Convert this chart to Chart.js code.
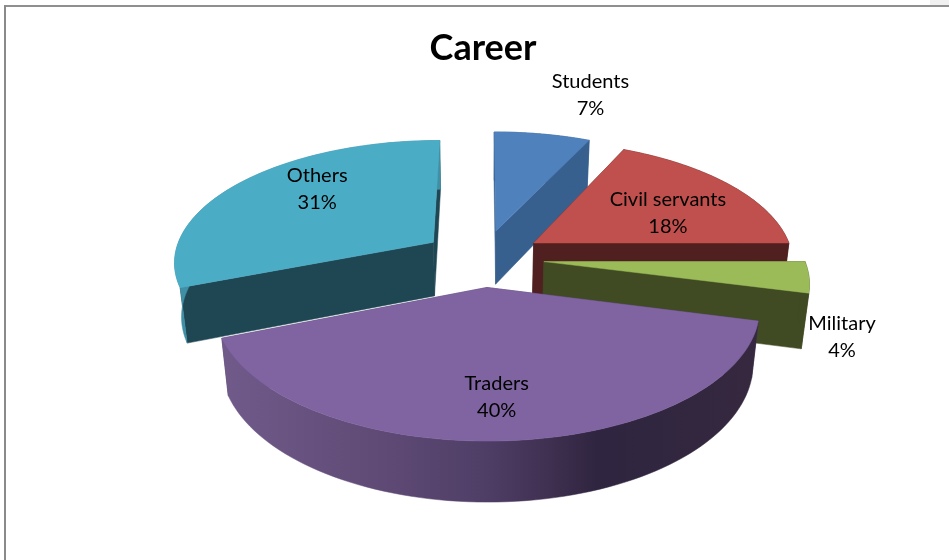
<!DOCTYPE html>
<html>
<head>
<meta charset="utf-8">
<style>
html,body{margin:0;padding:0;background:#fff;width:949px;height:560px;overflow:hidden}
#wrap{position:absolute;left:0;top:0;width:949px;height:560px}
#frameTop{position:absolute;left:4px;top:5px;width:945px;height:2px;background:#8f8f8f}
#frameLeft{position:absolute;left:4px;top:5px;width:2px;height:555px;background:#8a8a8a}
#corner{position:absolute;left:930px;top:0;width:19px;height:5px;background:#f0f0f0}
canvas{position:absolute;left:0;top:0}
</style>
<script src="https://cdn.jsdelivr.net/npm/chart.js@4/dist/chart.umd.min.js"></script>
</head>
<body>
<div id="wrap"><canvas id="c" width="949" height="560"></canvas><div id="corner"></div><div id="frameTop"></div><div id="frameLeft"></div></div>
<script>
const chartTitle = "Career";
const categories = ["Students", "Civil servants", "Military", "Traders", "Others"];
const shares = [7, 18, 4, 40, 31];
const topColors = ["#4f81bd", "#c0504d", "#9bbb59", "#8064a2", "#4bacc6"];
const cutColors = ["#37608f", "#4f201f", "#404a23", "#4a3a60", "#1f4653"];
const rimColors = ["#37608f", "#4f201f", "#404a23", null, "#3f8fa5"];
const paintOrder = [0, 1, 2, 4, 3];
const labelNudges = [[48,-39],[-62,28],[33,60],[-11,-44],[75,7]];
const view = {cx:483, cy:258, rx:260, ry:121.2, persp:0.148, explode:0.235, depth:55.5, shrink:0.023};

function project(X, Y, low){
  const s = 1/(1 + view.persp*Y + (low ? view.shrink : 0));
  return [view.cx + view.rx*X*s, view.cy + (-view.ry*Y + (low ? view.depth : 0))*s];
}
function poly(ctx, pts, fill){
  ctx.beginPath();
  pts.forEach((p,i)=> i ? ctx.lineTo(p[0],p[1]) : ctx.moveTo(p[0],p[1]));
  ctx.closePath();
  ctx.fillStyle = fill; ctx.strokeStyle = fill; ctx.lineWidth = 0.5;
  ctx.fill(); ctx.stroke();
}
const pie3d = {
  id:'pie3d',
  beforeDatasetsDraw(chart){
    const ctx = chart.ctx, arcs = chart.getDatasetMeta(0).data;
    const total = shares.reduce((a,b)=>a+b,0);
    const geom = arcs.map(a=>{
      const t0 = a.startAngle + Math.PI/2, t1 = a.endAngle + Math.PI/2, m = (t0+t1)/2;
      const ex = view.explode*Math.sin(m), ey = view.explode*Math.cos(m);
      return {t0,t1,m,ex,ey};
    });
    ctx.save();
    paintOrder.forEach(i=>{
      const g = geom[i], n = 80;
      const rim = low => { const r=[]; for(let k=0;k<=n;k++){ const t=g.t0+(g.t1-g.t0)*k/n;
        r.push(project(g.ex+Math.sin(t), g.ey+Math.cos(t), low)); } return r; };
      const topRim = rim(false), lowRim = rim(true);
      const aT = project(g.ex,g.ey,false), aL = project(g.ex,g.ey,true);
      poly(ctx,[aT,topRim[0],lowRim[0],aL],cutColors[i]);
      poly(ctx,[aT,topRim[n],lowRim[n],aL],cutColors[i]);
      let rimFill = rimColors[i];
      if(!rimFill){
        const gr = ctx.createLinearGradient(225,0,750,0);
        gr.addColorStop(0,'#705a8a'); gr.addColorStop(.3,'#5f4a75'); gr.addColorStop(.5,'#4e3e66');
        gr.addColorStop(.62,'#3f2f50'); gr.addColorStop(.71,'#2f2540'); gr.addColorStop(1,'#35283f');
        rimFill = gr;
      }
      poly(ctx,topRim.concat(lowRim.slice().reverse()),rimFill);
      poly(ctx,[aT].concat(topRim),topColors[i]);
    });
    ctx.fillStyle='#000'; ctx.textAlign='center'; ctx.textBaseline='middle';
    ctx.font='20px Lato';
    geom.forEach((g,i)=>{
      const p = project(g.ex+Math.sin(g.m), g.ey+Math.cos(g.m), false);
      const x = p[0]+labelNudges[i][0], y = p[1]+labelNudges[i][1];
      ctx.fillText(categories[i], x, y-13.5);
      ctx.fillText(Math.round(shares[i]/total*100)+'%', x, y+13.5);
    });
    ctx.restore();
    return false;
  }
};
new Chart(document.getElementById('c'),{
  type:'pie',
  data:{labels:categories,datasets:[{data:shares,backgroundColor:topColors}]},
  options:{
    responsive:false,animation:false,devicePixelRatio:1,
    layout:{padding:{left:17}},
    plugins:{
      legend:{display:false},tooltip:{enabled:false},
      title:{display:true,text:chartTitle,color:'#000',font:{family:'Lato',size:36,weight:'bold'},padding:{top:27,bottom:0}}
    }
  },
  plugins:[pie3d]
});
</script>
</body>
</html>
